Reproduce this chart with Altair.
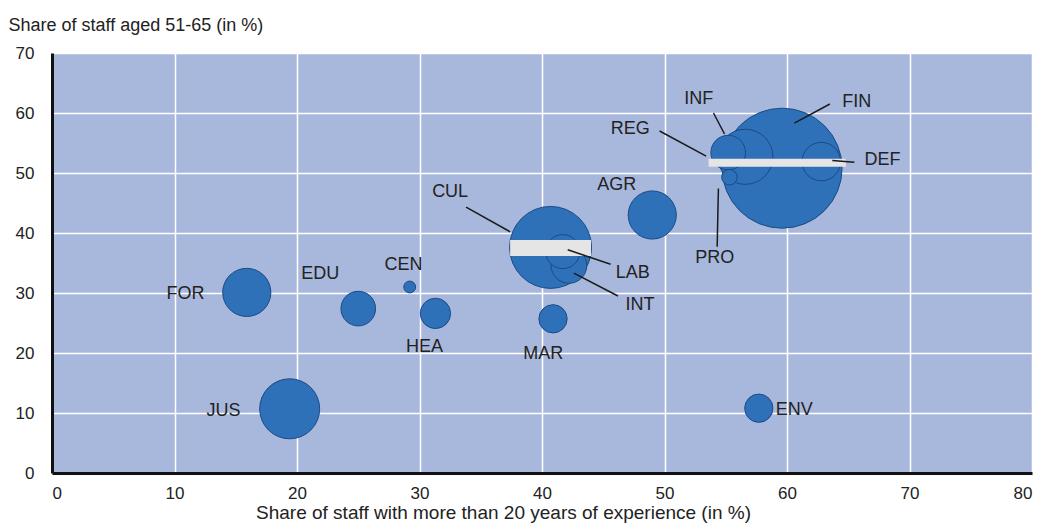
import altair as alt
import pandas as pd

# Bubble data
codes = ["FIN", "CUL", "JUS", "INF", "FOR", "AGR", "DEF", "LAB", "EDU", "REG", "INT", "HEA", "ENV", "MAR", "PRO", "CEN"]
experience = [59.6, 40.7, 19.4, 56.6, 15.9, 49.0, 62.8, 41.7, 25.0, 55.2, 42.2, 31.3, 57.7, 40.9, 55.3, 29.2]
aged = [50.8, 37.6, 10.7, 52.7, 30.1, 43.0, 51.9, 36.9, 27.4, 53.4, 34.6, 26.6, 10.8, 25.7, 49.3, 31.0]
staff = [36.0, 16.8, 9.0, 7.6, 5.8, 5.8, 3.7, 2.9, 3.0, 3.0, 3.2, 2.3, 2.0, 2.0, 0.6, 0.35]

# Label positions (data units)
label_x = [65.7, 32.5, 14.0, 52.8, 10.9, 46.1, 67.8, 47.4, 21.9, 47.2, 48.0, 30.4, 60.6, 40.1, 54.1, 28.7]
label_y = [61.9, 46.9, 10.4, 62.4, 29.9, 48.0, 52.2, 33.3, 33.1, 57.3, 28.0, 21.0, 10.5, 19.9, 35.8, 34.7]

# Leader lines
lead_codes = ["FIN", "DEF", "INF", "REG", "PRO", "CUL", "LAB", "INT"]
lead_x1 = [63.5, 65.5, 54.0, 49.6, 54.4, 33.8, 42.1, 42.6]
lead_y1 = [61.5, 51.8, 60.0, 57.0, 47.4, 44.3, 37.2, 33.3]
lead_x2 = [60.6, 63.7, 54.9, 53.4, 54.3, 37.4, 45.6, 46.2]
lead_y2 = [58.3, 52.1, 56.5, 52.8, 37.7, 40.2, 34.8, 29.5]

# Light bands across bubbles
band_x1 = [37.4, 53.6]
band_x2 = [44.0, 64.8]
band_y = [37.5, 51.7]

FONT = "Liberation Sans"

bubbles = pd.DataFrame({"code": codes, "exp": experience, "aged": aged, "staff": staff,
                        "lx": label_x, "ly": label_y})
leads = pd.DataFrame({"code": lead_codes, "x1": lead_x1, "y1": lead_y1, "x2": lead_x2, "y2": lead_y2})
bands = pd.DataFrame({"x1": band_x1, "x2": band_x2, "y": band_y})

xscale = alt.Scale(domain=[0, 80], nice=False)
yscale = alt.Scale(domain=[0, 70], nice=False)

base = alt.Chart(bubbles)

points = base.mark_circle(opacity=1, color="#2E71B8", stroke="#1B4A85", strokeWidth=1).encode(
    x=alt.X("exp:Q", scale=xscale,
            axis=alt.Axis(values=list(range(0, 81, 10)), title="Share of staff with more than 20 years of experience (in %)",
                          grid=True, ticks=False, labelPadding=12, titleFontSize=19,
                          titleX=451, titleAlign="center", titleY=45.5, titleBaseline="alphabetic")),
    y=alt.Y("aged:Q", scale=yscale,
            axis=alt.Axis(values=list(range(0, 71, 10)), title="Share of staff aged 51-65 (in %)",
                          grid=True, ticks=False, labelPadding=18, titleFontSize=18,
                          titleAngle=0, titleX=-44, titleY=-28, titleAlign="left", titleBaseline="middle")),
    size=alt.Size("staff:Q", scale=alt.Scale(domain=[0, 36], range=[0, 14400]), legend=None),
    order=alt.Order("staff:Q", sort="descending"),
)

band_layer = alt.Chart(bands).mark_rule(color="#E5E5E5", strokeWidth=16, strokeCap="butt").encode(
    x="x1:Q", x2="x2:Q", y="y:Q"
).transform_filter(alt.datum.y < 40)
band_layer2 = alt.Chart(bands).mark_rule(color="#E5E5E5", strokeWidth=8, strokeCap="butt").encode(
    x="x1:Q", x2="x2:Q", y="y:Q"
).transform_filter(alt.datum.y > 40)

lead_layer = alt.Chart(leads).mark_rule(color="#1a1a1a", strokeWidth=1.5).encode(
    x="x1:Q", y="y1:Q", x2="x2:Q", y2="y2:Q"
)

labels = base.mark_text(font=FONT, fontSize=18, color="#222222", align="center", baseline="middle").encode(
    x="lx:Q", y="ly:Q", text="code:N"
)

chart = alt.layer(points, band_layer, band_layer2, lead_layer, labels).properties(
    width=980, height=420,
    autosize=alt.AutoSizeParams(type="none"),
    padding={"left": 44, "top": 45, "right": 3, "bottom": 50},
).configure_view(
    fill="#A8B8DC", stroke=None
).configure_axis(
    gridColor="#FFFFFF", gridWidth=1.5, gridOpacity=1,
    domainColor="#111111", domainWidth=3,
    labelFont=FONT, labelFontSize=17, labelColor="#222222",
    titleFont=FONT, titleColor="#222222", titleFontWeight="normal",
)

chart.save("out.html", embed_options={"renderer": "svg", "actions": False})
